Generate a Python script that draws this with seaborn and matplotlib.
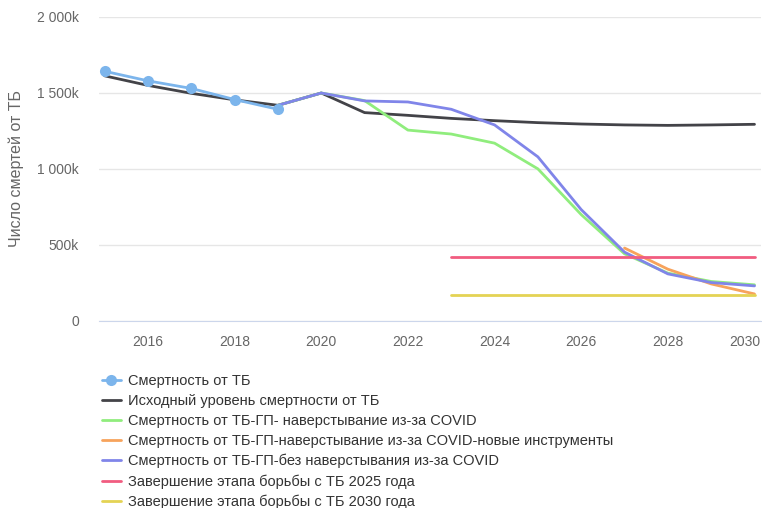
import matplotlib
matplotlib.use("Agg")
import matplotlib.pyplot as plt
import matplotlib.ticker as mticker
import matplotlib.transforms as mtransforms
import pandas as pd
import seaborn as sns

# observed TB deaths (thousands)
years_obs = [2015, 2016, 2017, 2018, 2019]
deaths_obs = [1643, 1580, 1530, 1457, 1393]

# baseline projection
years_base = list(range(2015, 2031))
deaths_base = [1613, 1550, 1498, 1455, 1419, 1500, 1371, 1353, 1333, 1318,
               1305, 1296, 1290, 1287, 1290, 1294]

# GP scenarios
years_gp = list(range(2019, 2031))
deaths_catchup = [1419, 1500, 1450, 1256, 1230, 1170, 1001, 700, 442, 315, 260, 238]
deaths_nocatchup = [1419, 1500, 1448, 1441, 1393, 1290, 1080, 733, 453, 310, 253, 231]

years_tools = [2027, 2028, 2029, 2030]
deaths_tools = [480, 341, 244, 178]

# milestones
years_ms = list(range(2023, 2031))
milestone_2025 = [418] * len(years_ms)
milestone_2030 = [172] * len(years_ms)

labels = [
    "Смертность от ТБ",
    "Исходный уровень смертности от ТБ",
    "Смертность от ТБ-ГП- наверстывание из-за COVID",
    "Смертность от ТБ-ГП-наверстывание из-за COVID-новые инструменты",
    "Смертность от ТБ-ГП-без наверстывания из-за COVID",
    "Завершение этапа борьбы с ТБ 2025 года",
    "Завершение этапа борьбы с ТБ 2030 года",
]
colors = ["#7cb5ec", "#434348", "#90ed7d", "#f7a35c", "#8085e9", "#f15c80", "#e4d354"]

series = [
    (years_obs, deaths_obs),
    (years_base, deaths_base),
    (years_gp, deaths_catchup),
    (years_tools, deaths_tools),
    (years_gp, deaths_nocatchup),
    (years_ms, milestone_2025),
    (years_ms, milestone_2030),
]

sns.set_style("white")
plt.rcParams["font.family"] = ["Liberation Sans", "DejaVu Sans"]

fig = plt.figure(figsize=(7.62, 5.08), dpi=100)
ax = fig.add_axes([99 / 762, 1 - 321 / 508, 662 / 762, 304 / 508])

handles = []
for i, ((xs, ys), lab, col) in enumerate(zip(series, labels, colors)):
    df = pd.DataFrame({"year": xs, "deaths": [v * 1000 for v in ys]})
    sns.lineplot(data=df, x="year", y="deaths", ax=ax, color=col, linewidth=2,
                 marker="o" if i == 0 else None, markersize=8,
                 markeredgewidth=0, zorder=3 + (i == 0))
    handles.append(ax.lines[-1])

ax.set_xlim(2014.87, 2030.15)
ax.set_ylim(0, 2000000)
ax.set_xticks(range(2016, 2031, 2))
ax.set_yticks(range(0, 2000001, 500000))


def fmt(v, pos):
    if v == 0:
        return "0"
    k = int(round(v / 1000))
    return (f"{k:,}".replace(",", " ")) + "k"


ax.yaxis.set_major_formatter(mticker.FuncFormatter(fmt))
ax.grid(axis="y", color="#e6e6e6", linewidth=1)
ax.set_axisbelow(True)
for s in ["top", "right", "left"]:
    ax.spines[s].set_visible(False)
ax.spines["bottom"].set_color("#ccd6eb")
ax.tick_params(axis="x", colors="#666666", labelsize=10, length=7,
               width=1, direction="out", pad=3)
ax.tick_params(axis="x", color="#ccd6eb")
ax.tick_params(axis="y", colors="#666666", labelsize=10, length=0, pad=14.5)
ax.set_xlabel("")
ax.set_ylabel("Число смертей от ТБ", color="#666666", fontsize=11.5, labelpad=9)

# keep the last year label inside the figure
last = ax.get_xticklabels()[-1]
shift = mtransforms.ScaledTranslation(-10 / 100, 0, fig.dpi_scale_trans)
last.set_transform(last.get_transform() + shift)

fig.legend(handles, labels, loc="upper left", bbox_to_anchor=(102 / 762, 1 - 374 / 508),
           frameon=False, fontsize=10.5, handlelength=1.3, handletextpad=0.45,
           labelspacing=0.41, borderaxespad=0, borderpad=0, labelcolor="#333333")

fig.savefig("out.png", dpi=100)
